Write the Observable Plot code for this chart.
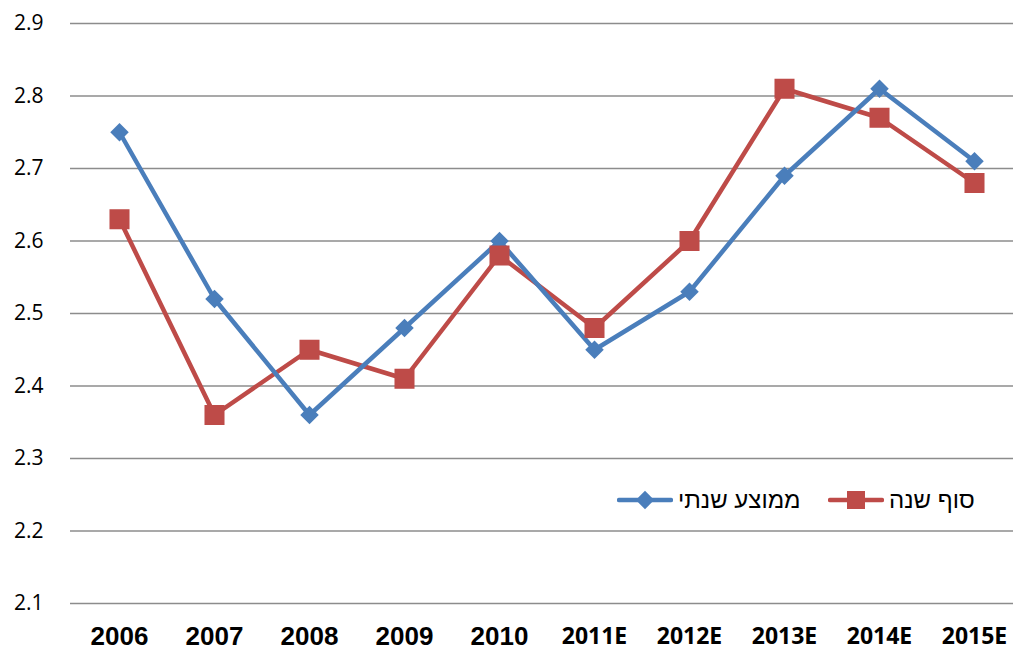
<!DOCTYPE html>
<html><head><meta charset="utf-8">
<script src="https://cdn.jsdelivr.net/npm/d3@7"></script>
<script src="https://cdn.jsdelivr.net/npm/@observablehq/plot@0.6"></script>
<style>
body{margin:0;background:#fff;}
#chart{position:relative;width:1013px;height:649px;}
.leg{position:absolute;top:488px;height:24px;display:flex;align-items:center;font-family:"Liberation Sans",Arial,sans-serif;font-size:24px;color:#000;white-space:nowrap;}
.leg svg{display:block;margin-right:5px}
</style></head><body><div id="chart"></div>
<script>
const years = ["2006","2007","2008","2009","2010","2011E","2012E","2013E","2014E","2015E"];
const annualAvg = [2.75,2.52,2.36,2.48,2.60,2.45,2.53,2.69,2.81,2.71];
const yearEnd = [2.63,2.36,2.45,2.41,2.58,2.48,2.60,2.81,2.77,2.68];
const yTicks = [2.1,2.2,2.3,2.4,2.5,2.6,2.7,2.8,2.9];
const seriesNames = ["ממוצע שנתי","סוף שנה"];
const colors = ["#4A7EBB","#BE4B48"];

const avgData = years.map((y,i)=>({year:y,value:annualAvg[i]}));
const endData = years.map((y,i)=>({year:y,value:yearEnd[i]}));

const plot = Plot.plot({
  width:1013, height:649,
  marginTop:23, marginBottom:46, marginLeft:70, marginRight:0,
  style:{background:"transparent", fontFamily:"'Open Sans',sans-serif", color:"#000"},
  x:{type:"point", domain:years, range:[118,975], padding:0, axis:null},
  y:{domain:[2.1,2.9], axis:null},
  marks:[
    Plot.ruleY(yTicks,{stroke:"#8c8c8c", strokeWidth:1.5}),
    Plot.axisY({ticks:yTicks, tickSize:0, tickPadding:27, fontSize:21, tickFormat:d=>d.toFixed(1), label:null}),
    Plot.text(years.filter(y=>!y.endsWith("E")), {x:d=>d, text:d=>d, frameAnchor:"bottom", lineAnchor:"bottom", dy:41, fontFamily:"'Liberation Sans',Arial,sans-serif", fontWeight:"bold", fontSize:26, fill:"#000"}),
    Plot.text(years.filter(y=>y.endsWith("E")), {x:d=>d, text:d=>d, frameAnchor:"bottom", lineAnchor:"bottom", dy:40, fontFamily:"'Open Sans',sans-serif", fontWeight:"bold", fontSize:23, fill:"#000"}),
    Plot.line(endData,{x:"year", y:"value", stroke:colors[1], strokeWidth:4.5}),
    Plot.line(avgData,{x:"year", y:"value", stroke:colors[0], strokeWidth:4.5}),
    Plot.dot(avgData,{x:"year", y:"value", symbol:"square", r:7.4, rotate:45, fill:colors[0], stroke:null}),
    Plot.dot(endData,{x:"year", y:"value", symbol:"square", r:11.3, fill:colors[1], stroke:null})
  ]
});
const chart = document.getElementById("chart");
chart.appendChild(plot);

function legendItem(left, color, square, name){
  const div = document.createElement("div");
  div.className = "leg";
  div.style.left = left + "px";
  const sym = square
    ? `<rect x="19" y="2" width="18" height="18" fill="${color}"/>`
    : `<rect x="21.5" y="4.5" width="13" height="13" fill="${color}" transform="rotate(45 28 11)"/>`;
  div.innerHTML = `<svg width="56" height="22"><line x1="2" y1="11" x2="54" y2="11" stroke="${color}" stroke-width="4.5" stroke-linecap="round"/>${sym}</svg><span dir="rtl">${name}</span>`;
  chart.appendChild(div);
}
legendItem(617, colors[0], false, seriesNames[0]);
legendItem(828, colors[1], true, seriesNames[1]);
</script>
</body></html>
